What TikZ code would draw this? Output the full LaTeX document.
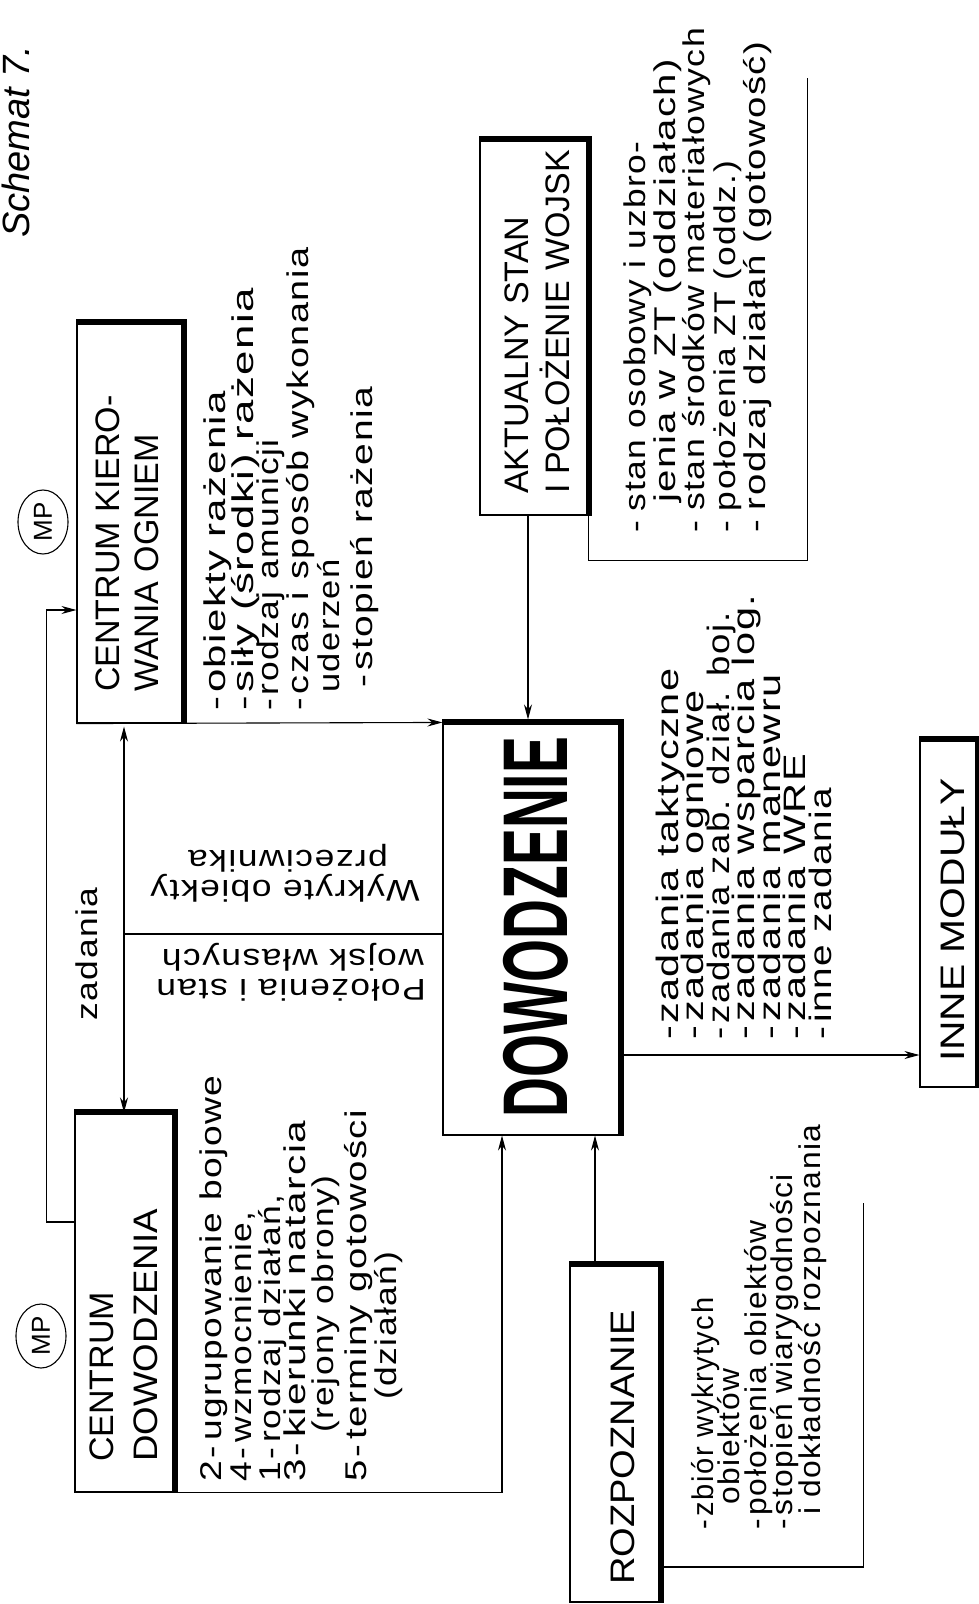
\documentclass[tikz,border=0pt]{standalone}
\usepackage{fontspec}
\setmainfont{Liberation Sans}
\newfontfamily\hwfont[LetterSpace=5,FakeStretch=1.18]{Liberation Sans}
\newfontfamily\bigfont[FakeStretch=0.6]{Liberation Sans}
\newcommand{\fst}[1]{\addfontfeature{FakeStretch=#1}}
\usetikzlibrary{arrows.meta,shapes.geometric}
\tikzset{
  ln/.style={line width=1.1pt},
  box/.style={draw, ln, rectangle, inner sep=0pt},
  heavy/.style={line width=6pt, line join=miter},
  arr/.style={ln, -{Stealth[length=15pt,width=8pt]}},
  dbl/.style={ln, {Stealth[length=15pt,width=8pt]}-{Stealth[length=15pt,width=8pt]}},
  hw/.style={font=\hwfont\fontsize{30}{30}\selectfont, inner sep=0pt, rotate=90, anchor=base west},
  hwbig/.style={font=\hwfont\fontsize{31}{31}\selectfont\fst{1.34}, inner sep=0pt, rotate=90, anchor=base west},
  hwr/.style={font=\hwfont\fontsize{30}{30}\selectfont, inner sep=0pt, rotate=180},
  ttl/.style={font=\fontsize{34}{34}\selectfont, inner sep=0pt, rotate=90, anchor=base west},
  mpc/.style={draw, ln, ellipse, minimum width=64pt, minimum height=50pt, inner sep=0pt, rotate=90, font=\fontsize{26}{26}\selectfont},
}
\begin{document}
\begin{tikzpicture}[x=1pt,y=-1pt]
\useasboundingbox (0,0) rectangle (979,1604);
\fill[white] (0,0) rectangle (979,1604);

% ---- boxes ----
\node[box, minimum width=106pt, minimum height=400pt] (kier) at (130,523) {};
\node[box, minimum width=108pt, minimum height=375pt] (akt) at (534,327.5) {};
\node[box, minimum width=177pt, minimum height=412pt] (dow) at (531.5,929) {};
\node[box, minimum width=99pt, minimum height=379pt] (cd) at (124.5,1302.5) {};
\node[box, minimum width=90pt, minimum height=337pt] (roz) at (615,1433.5) {};
\node[box, minimum width=57pt, minimum height=347pt] (inne) at (948.5,913.5) {};

\foreach \b in {kier,akt,dow,cd,roz,inne}
  \draw[heavy] (\b.north west) -- (\b.north east) -- (\b.south east);

% ---- titles ----
\node[font=\itshape\fontsize{38}{38}\selectfont, inner sep=0pt, rotate=90, anchor=base west] (sch) at (29,238) {Schemat 7.};
\node[mpc] (mp1) at (43,522) {MP};
\node[mpc] (mp2) at (41,1336) {MP};

\node[ttl] (kt1) at (119,692) {CENTRUM KIERO-};
\node[ttl] (kt2) at (158,692) {WANIA OGNIEM};

\node[ttl] (at1) at (528,494) {AKTUALNY STAN};
\node[ttl] (at2) at (569,494) {I POŁOŻENIE WOJSK};

\node[font=\bigfont\bfseries\fontsize{92}{92}\selectfont, inner sep=0pt, rotate=90] (dtxt) at (536,927) {DOWODZENIE};

\node[ttl] (ct1) at (113,1462) {CENTRUM};
\node[ttl] (ct2) at (157,1462) {\fst{1.08}DOWODZENIA};

\node[ttl] (rt) at (634,1585) {\fst{1.12}ROZPOZNANIE};
\node[ttl] (it) at (964,1062) {\fst{1.2}INNE MODUŁY};

% ---- lists ----
\node[hw] (k1) at (225,711) {\fst{1.4}-\hspace{4pt}obiekty rażenia};
\node[hw] (k2) at (253,711) {\fst{1.46}-\hspace{4pt}siły (środki) rażenia};
\node[hw] (k3) at (278,711) {\fst{1.18}-\hspace{4pt}rodzaj amunicji};
\node[hw] (k4) at (308,711) {\fst{1.26}-\hspace{4pt}czas i sposób wykonania};
\node[hw] (k5) at (339,693) {\fst{1.15}uderzeń};
\node[hw] (k6) at (372,688) {\fst{1.3}-\hspace{4pt}stopień rażenia};

\node[hw] (a1) at (645,533) {-\hspace{10pt}stan osobowy i uzbro-};
\node[hw] (a2) at (675,503) {\fst{1.34}jenia w ZT (oddziałach)};
\node[hw] (a3) at (704,533) {\fst{1.19}-\hspace{10pt}stan środków materiałowych};
\node[hw] (a4) at (735,533) {-\hspace{10pt}położenia ZT (oddz.)};
\node[hw] (a5) at (765,533) {\fst{1.28}-\hspace{10pt}rodzaj działań (gotowość)};

\node[hwbig] (d1) at (678,1040) {-\hspace{2pt}zadania taktyczne};
\node[hwbig] (d2) at (703.5,1040) {-\hspace{4pt}zadania ogniowe};
\node[hwbig] (d3) at (729,1040) {\fst{1.18}-\hspace{4pt}zadania zab. dział. boj.};
\node[hwbig] (d4) at (754.5,1040) {-\hspace{4pt}zadania wsparcia log.};
\node[hwbig] (d5) at (780,1040) {-\hspace{4pt}zadania manewru};
\node[hwbig] (d6) at (805.5,1040) {-\hspace{4pt}zadania WRE};
\node[hwbig] (d7) at (831,1040) {\fst{1.25}-\hspace{4pt}inne zadania};

\node[hw] (c1) at (221,1482) {\fst{1.24}2\hspace{3pt}-\hspace{5pt}ugrupowanie bojowe};
\node[hw] (c2) at (251,1482) {4\hspace{3pt}-\hspace{5pt}wzmocnienie,};
\node[hw] (c3) at (280,1482) {1\hspace{3pt}-\hspace{5pt}rodzaj działań,};
\node[hw] (c4) at (305,1482) {\fst{1.35}3\hspace{3pt}-\hspace{5pt}kierunki natarcia};
\node[hw] (c5) at (333,1433) {(rejony obrony)};
\node[hw] (c6) at (366,1482) {\fst{1.28}5\hspace{3pt}-\hspace{5pt}terminy gotowości};
\node[hw] (c7) at (396,1400) {(działań)};

\node[hw] (r1) at (713,1530) {\fst{0.97}-\hspace{4pt}zbiór wykrytych};
\node[hw] (r2) at (739,1505) {\fst{1.06}obiektów};
\node[hw] (r3) at (766,1530) {\fst{1.06}-\hspace{4pt}położenia obiektów};
\node[hw] (r4) at (792,1530) {\fst{1.06}-\hspace{4pt}stopień wiarygodności};
\node[hw] (r5) at (820,1515) {\fst{1.06}i dokładność rozpoznania};

\node[hw, anchor=center] (zad) at (87,954) {zadania};

\node[hwr, anchor=base] (w1) at (285,880) {Wykryte obiekty};
\node[hwr, anchor=base] (w2) at (288,850) {przeciwnika};
\node[hwr, anchor=base west] (p1) at (426,979) {Położenia i stan};
\node[hwr, anchor=base west] (p2) at (424,949) {wojsk własnych};

% ---- connectors ----
\draw[arr] (kier.south west) -- (dow.north west);
\draw[arr, shorten >=3pt] ([xshift=-6pt]akt.south) -- ([xshift=-6pt]akt.south |- dow.north);
\draw[arr] ([yshift=-126pt]dow.east) -- ([yshift=-126pt]dow.east -| inne.west);
\draw[arr] (cd.south west) -| ([xshift=-29.5pt]dow.south);
\draw[arr] ([xshift=-20pt]roz.north) -- ([xshift=-20pt]roz.north |- dow.south);
\draw[dbl, shorten <=3pt] ([xshift=-6pt]kier.south) -- ([xshift=-6pt]kier.south |- cd.north);
\draw[arr] ([yshift=80.5pt]cd.west) -- ++(-28,0) |- ([yshift=-87pt]kier.west);
\draw[ln] ([yshift=-5pt]dow.west) -- ++(-319,0);
\draw[ln] (akt.south east) -- ++(0,45) -- ++(219,0) -- ++(0,-483);
\draw[ln] ([yshift=-133.5pt]roz.east) -- ++(203,0) -- ++(0,-364);
\end{tikzpicture}
\end{document}
